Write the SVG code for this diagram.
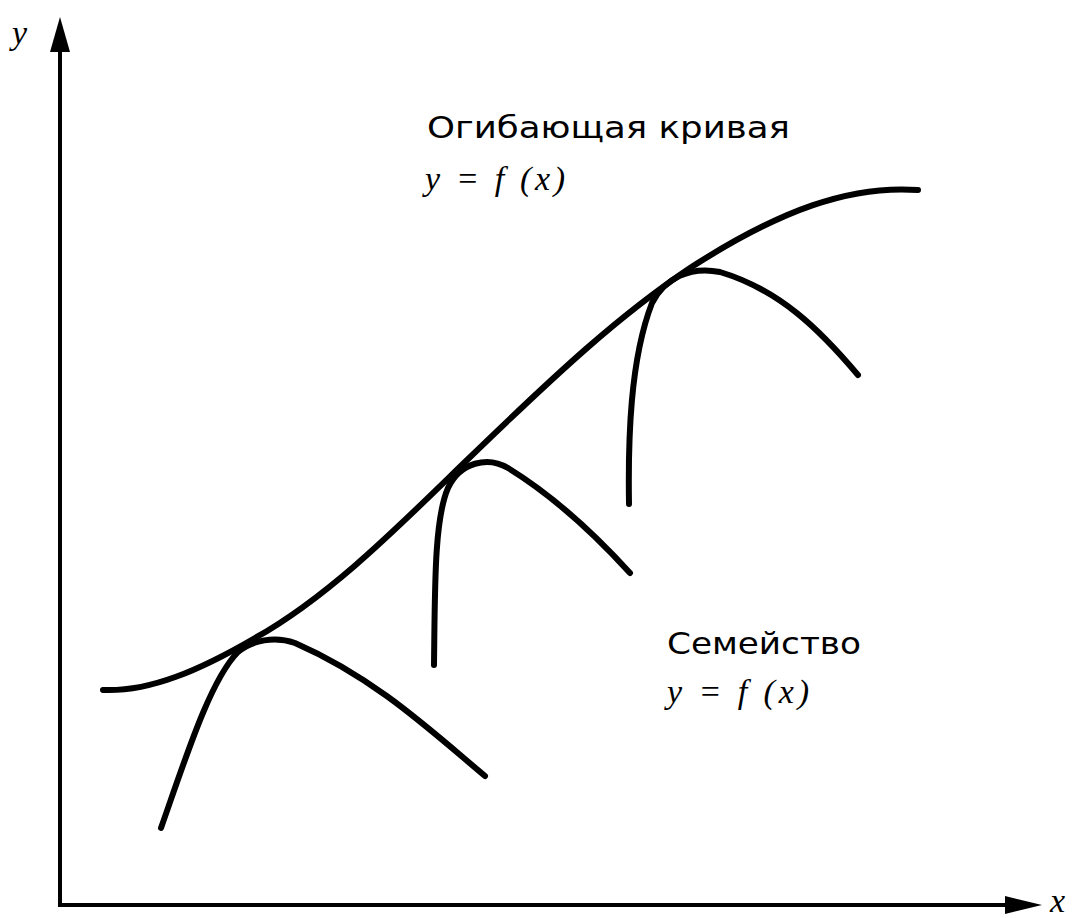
<svg xmlns="http://www.w3.org/2000/svg" width="1077" height="918" viewBox="0 0 1077 918">
<style>
.c{fill:none;stroke:#000;stroke-width:6;stroke-linecap:round;stroke-linejoin:round}
.ax{fill:none;stroke:#000;stroke-width:4}
.t{font-family:"DejaVu Sans","Liberation Sans",sans-serif;font-size:30px;fill:#000}
.m{font-family:"Liberation Serif",serif;font-style:italic;font-size:34px;fill:#000}
</style>
<g id="axes">
<line class="ax" x1="60" y1="907" x2="60" y2="40"/>
<line class="ax" x1="58" y1="905" x2="1015" y2="905"/>
<polygon points="60,17 50,52 70,52" fill="#000"/>
<polygon points="1042,905 1005,896 1005,914" fill="#000"/>
<text class="m" x="12" y="44">y</text>
<text class="m" x="1050" y="912" font-size="28">x</text>
</g>
<g id="envelope">
<path class="c" d="M103,690 C150,692 200,670 255,638 C330,596 400,525 465,462 C560,370 620,315 690,268 C780,210 850,185 918,190"/>
</g>
<g id="family">
<path class="c" d="M161,828 C185,760 210,680 238,652 C252,640 275,636 295,643 C375,678 430,730 485,776"/>
<path class="c" d="M434,665 C435,590 434,520 448,488 C460,462 488,456 508,468 C560,500 600,540 630,573"/>
<path class="c" d="M629,504 C628,440 630,360 652,303 C665,278 690,266 720,272 C780,290 820,330 858,375"/>
</g>
<g id="labels">
<text class="t" x="427" y="138" textLength="363" lengthAdjust="spacingAndGlyphs">Огибающая кривая</text>
<text class="m" x="425" y="190" textLength="140" lengthAdjust="spacing">y = f (x)</text>
<text class="t" x="667" y="654" textLength="194" lengthAdjust="spacingAndGlyphs">Семейство</text>
<text class="m" x="667" y="703" textLength="142" lengthAdjust="spacing">y = f (x)</text>
</g>
</svg>
